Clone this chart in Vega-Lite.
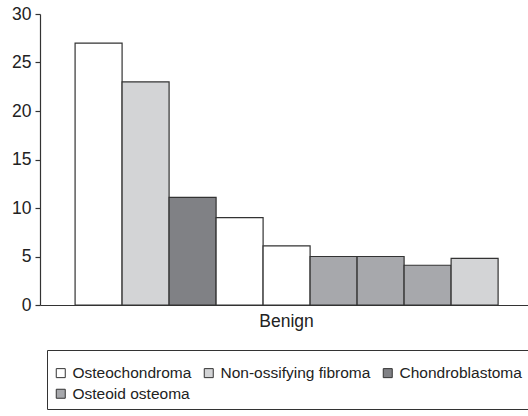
{
  "$schema": "https://vega.github.io/schema/vega-lite/v6.json",
  "width": 488,
  "height": 291,
  "autosize": "none",
  "padding": {"left": 40, "top": 14, "right": 0, "bottom": 111},
  "background": "white",
  "data": {
    "values": [
      {"group": "Benign", "order": 1, "tumor": "Osteochondroma", "count": 27},
      {"group": "Benign", "order": 2, "tumor": "Non-ossifying fibroma", "count": 23},
      {"group": "Benign", "order": 3, "tumor": "Chondroblastoma", "count": 11.1},
      {"group": "Benign", "order": 4, "tumor": "Unlisted 4", "count": 9},
      {"group": "Benign", "order": 5, "tumor": "Unlisted 5", "count": 6.1},
      {"group": "Benign", "order": 6, "tumor": "Osteoid osteoma", "count": 5},
      {"group": "Benign", "order": 7, "tumor": "Unlisted 7", "count": 5},
      {"group": "Benign", "order": 8, "tumor": "Unlisted 8", "count": 4.1},
      {"group": "Benign", "order": 9, "tumor": "Unlisted 9", "count": 4.8}
    ]
  },
  "mark": {"type": "bar", "stroke": "#333333", "strokeWidth": 1.2},
  "encoding": {
    "x": {
      "field": "group",
      "type": "nominal",
      "scale": {"paddingInner": 0, "paddingOuter": 0.0768, "align": 0.54},
      "axis": {
        "title": null,
        "labelAngle": 0,
        "ticks": false,
        "labelPadding": 7,
        "labelFontSize": 17.5,
        "labelFont": "Liberation Sans",
        "labelColor": "#222222",
        "domainColor": "#333333",
        "domainWidth": 1.2
      }
    },
    "xOffset": {
      "field": "order",
      "type": "ordinal",
      "scale": {"paddingInner": 0, "paddingOuter": 0}
    },
    "y": {
      "field": "count",
      "type": "quantitative",
      "scale": {"domain": [0, 30]},
      "axis": {
        "title": null,
        "values": [0, 5, 10, 15, 20, 25, 30],
        "grid": false,
        "tickSize": 5,
        "tickColor": "#333333",
        "tickWidth": 1.2,
        "domainColor": "#333333",
        "domainWidth": 1.2,
        "labelPadding": 4,
        "labelFontSize": 17.5,
        "labelFont": "Liberation Sans",
        "labelColor": "#222222"
      }
    },
    "color": {
      "field": "tumor",
      "type": "nominal",
      "scale": {
        "domain": ["Osteochondroma", "Non-ossifying fibroma", "Chondroblastoma", "Osteoid osteoma", "Unlisted 4", "Unlisted 5", "Unlisted 7", "Unlisted 8", "Unlisted 9"],
        "range": ["#ffffff", "#d3d4d6", "#808185", "#a7a8ac", "#ffffff", "#ffffff", "#a7a8ac", "#a7a8ac", "#d3d4d6"]
      },
      "legend": {
        "values": ["Osteochondroma", "Non-ossifying fibroma", "Chondroblastoma", "Osteoid osteoma"],
        "orient": "none",
        "legendX": 7,
        "legendY": 336,
        "direction": "horizontal",
        "columns": 3,
        "columnPadding": 9,
        "rowPadding": 4,
        "title": " ",
        "titleFontSize": 9,
        "titlePadding": 0,
        "padding": 6,
        "strokeColor": "#333333",
        "fillColor": "#ffffff",
        "symbolType": "square",
        "symbolSize": 81,
        "symbolStrokeColor": "#333333",
        "symbolStrokeWidth": 1,
        "symbolOffset": 0,
        "labelOffset": 4,
        "labelFontSize": 15.5,
        "labelFont": "Liberation Sans",
        "labelColor": "#222222",
        "labelLimit": 300
      }
    }
  },
  "config": {"view": {"stroke": null}}
}
